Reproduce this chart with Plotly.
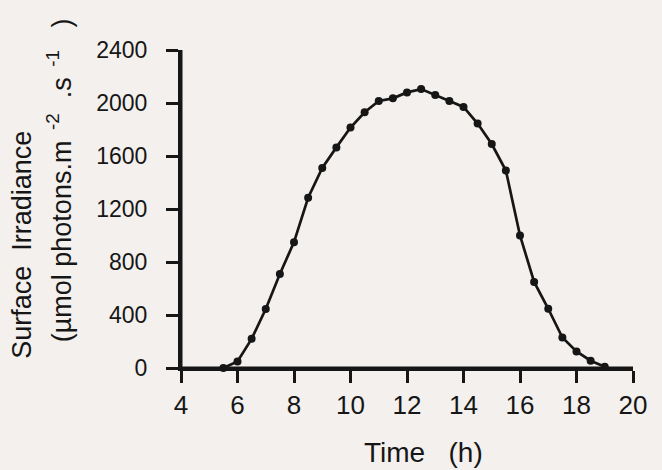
#!/usr/bin/env python3
import plotly.graph_objects as go

# half-hourly surface irradiance readings
time_h = [5.5, 6, 6.5, 7, 7.5, 8, 8.5, 9, 9.5, 10, 10.5, 11, 11.5, 12, 12.5,
          13, 13.5, 14, 14.5, 15, 15.5, 16, 16.5, 17, 17.5, 18, 18.5, 19]
irradiance = [0, 50, 220, 445, 710, 950, 1285, 1510, 1665, 1815, 1930, 2015, 2035, 2080, 2105,
              2060, 2015, 1970, 1845, 1690, 1490, 1000, 650, 447, 230, 125, 55, 10]

x_ticks = [4, 6, 8, 10, 12, 14, 16, 18, 20]
y_ticks = [0, 400, 800, 1200, 1600, 2000, 2400]

bg = "#f3f0ed"
ink = "#161616"
font = "Liberation Sans"

fig = go.Figure()
fig.add_trace(go.Scatter(x=time_h, y=irradiance, mode='lines+markers',
                         line=dict(color=ink, width=2.7),
                         marker=dict(color=ink, size=8),
                         cliponaxis=False, showlegend=False))

axis_common = dict(showline=True, linecolor=ink, linewidth=3, ticks='outside',
                   ticklen=12, tickwidth=3, tickcolor=ink, showgrid=False,
                   zeroline=False)

fig.update_xaxes(range=[4, 20], tickvals=x_ticks, ticktext=[str(t) for t in x_ticks],
                 tickfont=dict(family=font, size=26, color=ink), **axis_common)
fig.update_yaxes(range=[0, 2400], tickvals=y_ticks, ticktext=[str(t) for t in y_ticks],
                 tickfont=dict(family=font, size=23, color=ink),
                 ticklabelstandoff=14, **axis_common)

# axis lines don't show up in the render, draw them on the plot edges
for x0, y0, x1, y1 in [(0, 0, 1, 0), (0, 0, 0, 1)]:
    fig.add_shape(type='line', xref='x domain', yref='y domain',
                  x0=x0, y0=y0, x1=x1, y1=y1, layer='above',
                  line=dict(color=ink, width=3))

# axis titles as separate annotations (lines are not centred together)
fig.add_annotation(text="Time   (h)", xref='paper', yref='paper', x=0.5376, y=-0.267,
                   xanchor='center', yanchor='middle', showarrow=False,
                   font=dict(family=font, size=28, color=ink))
fig.add_annotation(text="Surface  Irradiance", xref='paper', yref='paper',
                   x=-0.352, y=0.387, xanchor='center', yanchor='middle',
                   textangle=-90, showarrow=False,
                   font=dict(family=font, size=27, color=ink))
fig.add_annotation(text="(µmol photons.m<sup>  -2</sup>  .s<sup>  -1</sup>   )",
                   xref='paper', yref='paper', x=-0.268, y=0.59,
                   xanchor='center', yanchor='middle', textangle=-90, showarrow=False,
                   font=dict(family=font, size=27, color=ink))

fig.update_layout(width=662, height=470, paper_bgcolor=bg, plot_bgcolor=bg,
                  margin=dict(l=181, r=29, t=50, b=102))

fig.write_html("out.html", config={'displayModeBar': False},
               post_script="document.body.style.margin='0';"
                           "document.body.style.background='%s';" % bg)
